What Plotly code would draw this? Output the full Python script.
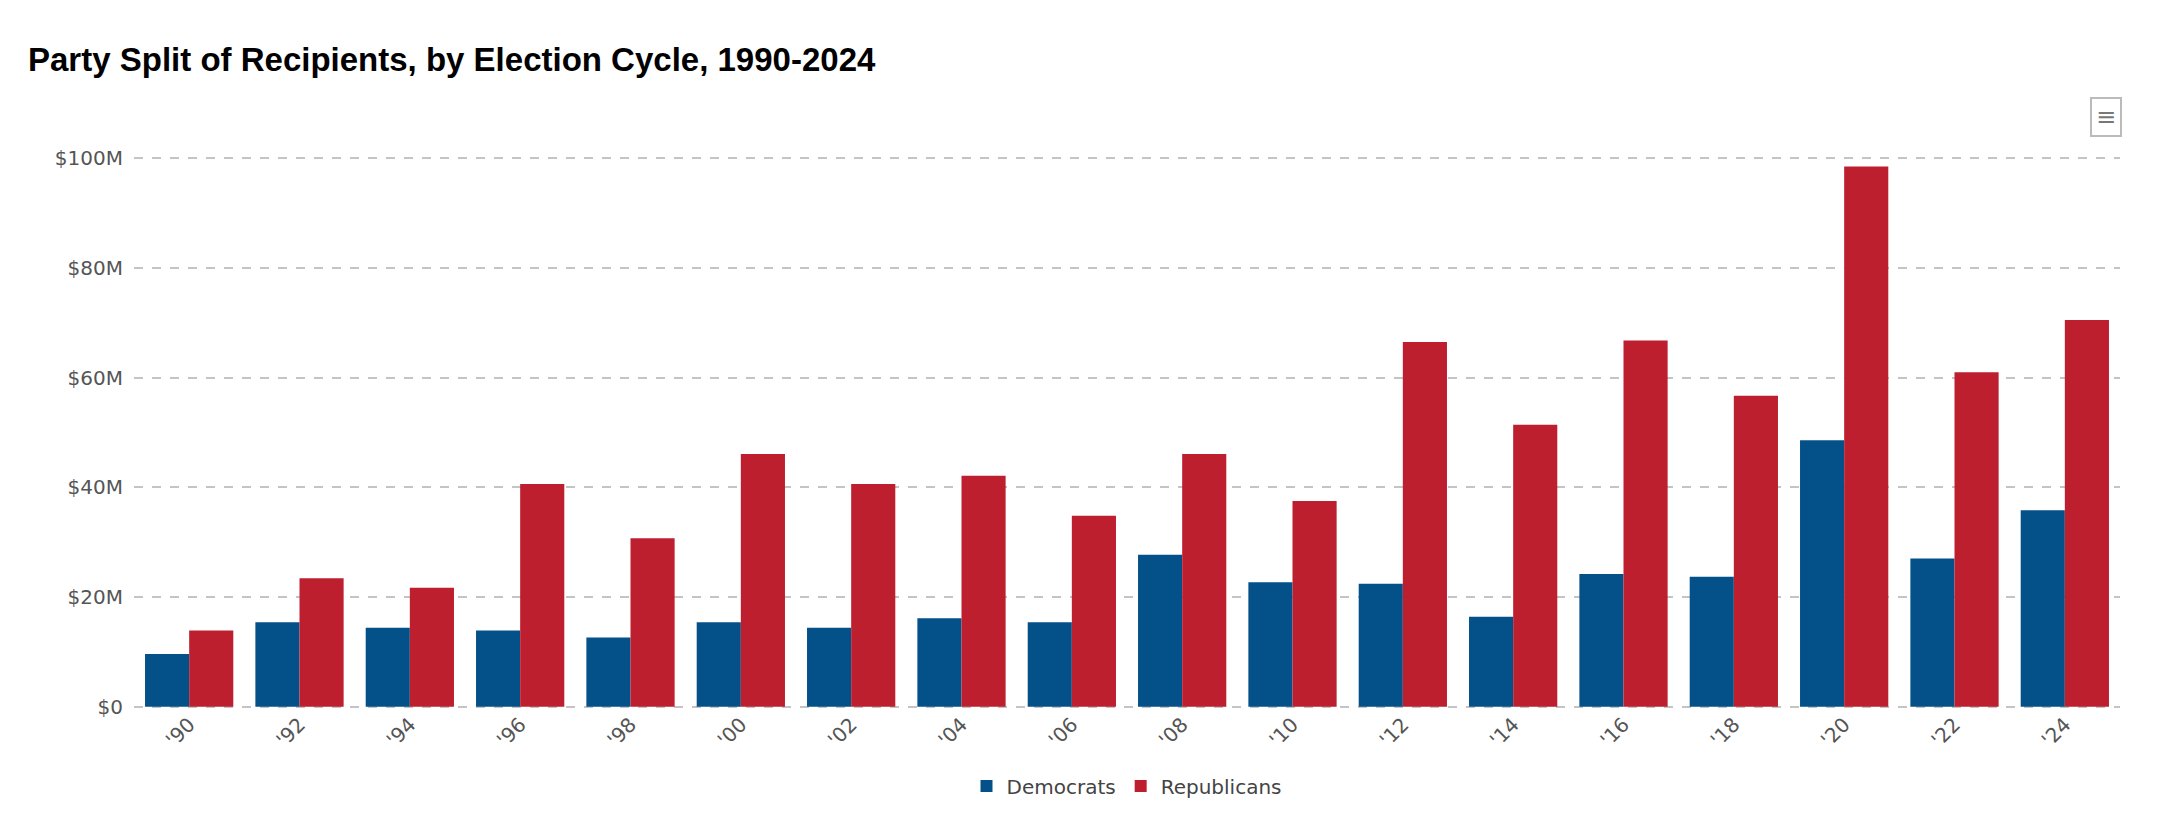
import plotly.graph_objects as go

cycles = ["'90", "'92", "'94", "'96", "'98", "'00", "'02", "'04", "'06",
          "'08", "'10", "'12", "'14", "'16", "'18", "'20", "'22", "'24"]
democrats = [9.6, 15.4, 14.4, 13.9, 12.6, 15.4, 14.4, 16.1, 15.4,
             27.7, 22.7, 22.4, 16.4, 24.2, 23.7, 48.6, 27.0, 35.8]
republicans = [13.9, 23.4, 21.7, 40.6, 30.7, 46.1, 40.6, 42.1, 34.8,
               46.1, 37.5, 66.5, 51.4, 66.8, 56.7, 98.5, 61.0, 70.5]
y_ticks = [0, 20, 40, 60, 80, 100]
y_tick_labels = ["$0", "$20M", "$40M", "$60M", "$80M", "$100M"]

DEM_COLOR = "#045088"
REP_COLOR = "#bd1f2f"

L, R, T, B = 126, 52, 149, 140
plot_h = 840 - T - B

fig = go.Figure()
fig.add_trace(go.Bar(name="Democrats", x=cycles, y=[v * 1e6 for v in democrats],
                     marker=dict(color=DEM_COLOR, line=dict(width=0))))
fig.add_trace(go.Bar(name="Republicans", x=cycles, y=[v * 1e6 for v in republicans],
                     marker=dict(color=REP_COLOR, line=dict(width=0))))

fig.update_layout(
    width=2164, height=840,
    paper_bgcolor="white", plot_bgcolor="white",
    margin=dict(l=L, r=R, t=T, b=B),
    barmode="group", bargap=0.2, bargroupgap=0,
    title=dict(text="<b>Party Split of Recipients, by Election Cycle, 1990-2024</b>",
               x=20 / 2164, xanchor="left", y=1 - 51 / 840, yanchor="middle",
               font=dict(family="Liberation Sans", size=33, color="#000000")),
    font=dict(family="DejaVu Sans", color="#555555", size=20),
    showlegend=True,
    legend=dict(orientation="h", x=0.5, xanchor="center", y=(plot_h - (778 - T)) / plot_h,
                yanchor="middle",
                font=dict(family="DejaVu Sans", size=20, color="#444444"),
                itemsizing="constant", traceorder="normal"),
    xaxis=dict(tickangle=-45, showgrid=False, showline=False, ticks="",
               tickfont=dict(family="DejaVu Sans", size=20, color="#555555")),
    yaxis=dict(range=[-0.25e6, 100.25e6], tickvals=[t * 1e6 for t in y_ticks],
               ticktext=y_tick_labels,
               showgrid=True, gridcolor="#c4c4c4", griddash="dash", gridwidth=2,
               zeroline=False, showline=False, ticks="", ticklabelstandoff=10,
               tickfont=dict(family="DejaVu Sans", size=20, color="#555555")),
    annotations=[dict(text="≡", xref="paper", yref="paper",
                      x=(2098 - L) / (2164 - L - R), y=(840 - B - 109) / plot_h,
                      xanchor="center", yanchor="middle", showarrow=False,
                      font=dict(size=24, color="#777777"),
                      bordercolor="#bbbbbb", borderwidth=2, borderpad=4,
                      bgcolor="white")],
)

fig.write_html("out.html", config={"displayModeBar": False})
